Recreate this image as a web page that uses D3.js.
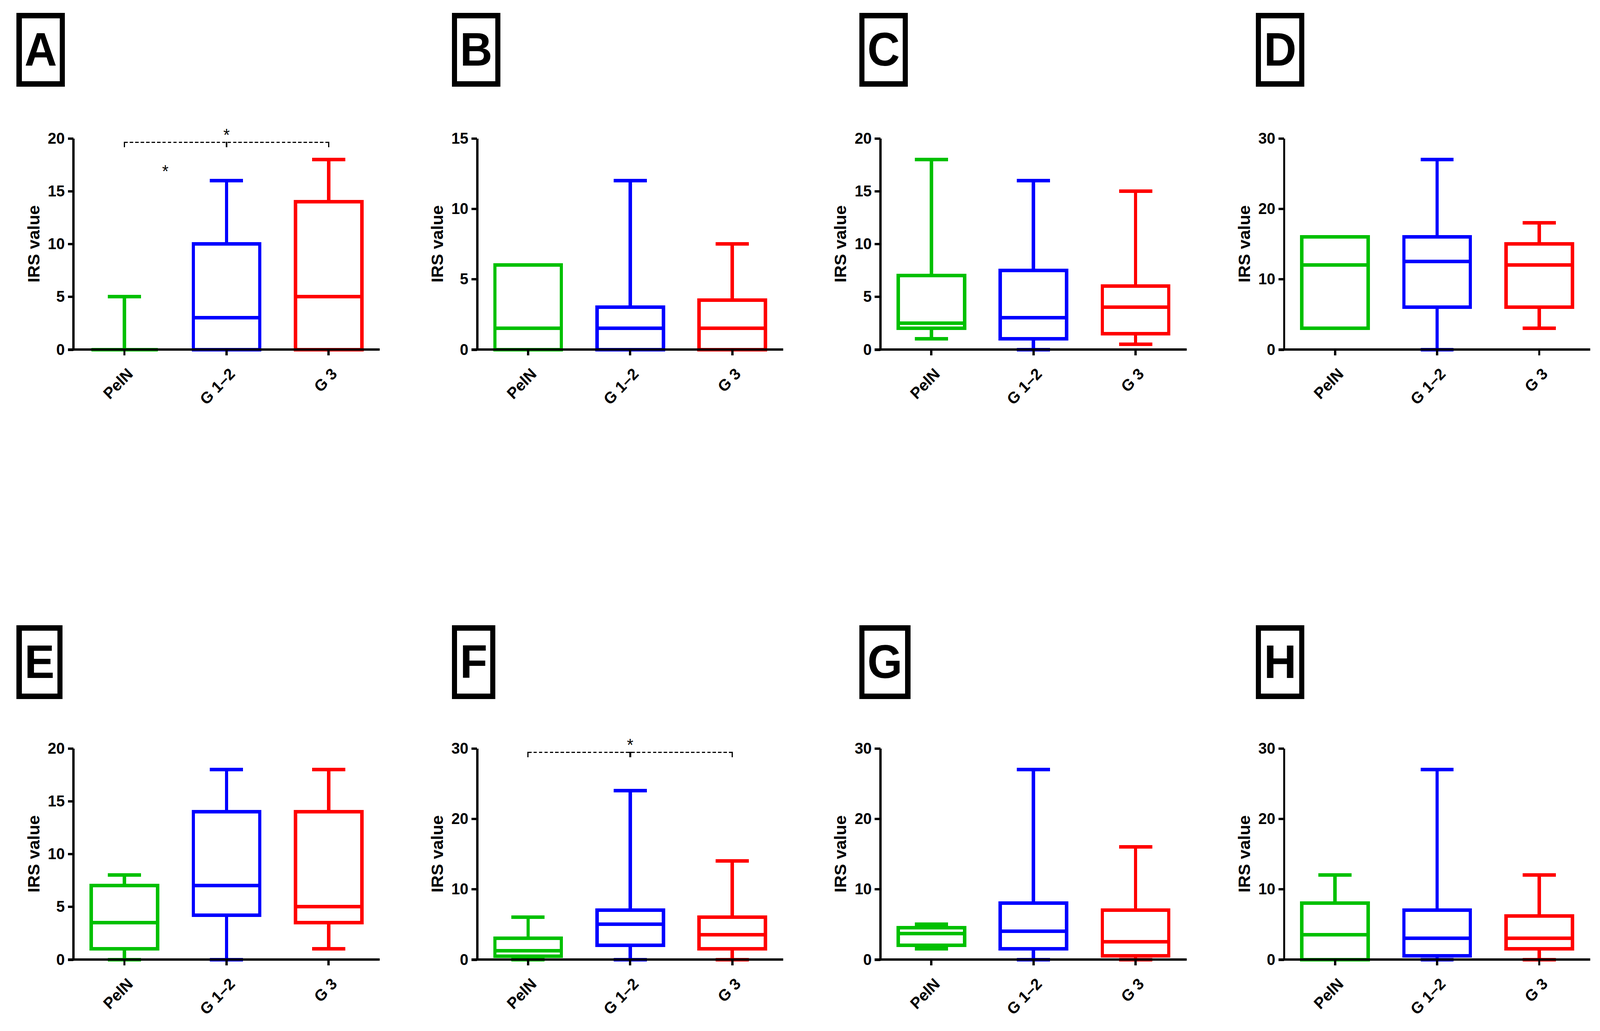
<!DOCTYPE html>
<html>
<head>
  <meta charset="utf-8">
  <script src="https://d3js.org/d3.v7.min.js"></script>
  <title>IRS value box plots</title>
  <style>
    html, body {
      margin: 0;
      padding: 0;
      overflow: hidden;
      background: #fff;
    }
    svg {
      display: block;
    }
    text {
      font-family: 'Liberation Sans', Arial, sans-serif;
      fill: #000;
    }
    .crisp {
      shape-rendering: crispEdges;
    }
  </style>
</head>
<body>
  <div id="chart"></div>
  <script>
    // ---- data ----
    var panels = ["A", "B", "C", "D", "E", "F", "G", "H"];
    var groups = ["PelN", "G 1\u20132", "G 3"];
    var groupColours = ["#00c000", "#0000ff", "#ff0000"];

    var yMax = [20, 15, 20, 30, 20, 30, 30, 30];
    var yStep = [5, 5, 5, 10, 5, 10, 10, 10];

    // one row per panel, one column per group (PelN, G 1-2, G 3)
    var whiskerMin = [
      [0, 0, 0],
      [0, 0, 0],
      [1, 0, 0.5],
      [3, 0, 3],
      [0, 0, 1],
      [0, 0, 0],
      [1.5, 0, 0],
      [0, 0, 0]
    ];
    var quart1 = [
      [0, 0, 0],
      [0, 0, 0],
      [2, 1, 1.5],
      [3, 6, 6],
      [1, 4.2, 3.5],
      [0.45, 2, 1.5],
      [2, 1.5, 0.5],
      [0, 0.5, 1.5]
    ];
    var medians = [
      [0, 3, 5],
      [1.5, 1.5, 1.5],
      [2.5, 3, 4],
      [12, 12.5, 12],
      [3.5, 7, 5],
      [1.25, 5, 3.5],
      [3.7, 4, 2.5],
      [3.5, 3, 3]
    ];
    var quart3 = [
      [0, 10, 14],
      [6, 3, 3.5],
      [7, 7.5, 6],
      [16, 16, 15],
      [7, 14, 14],
      [3, 7, 6],
      [4.5, 8, 7],
      [8, 7, 6.2]
    ];
    var whiskerMax = [
      [5, 16, 18],
      [6, 12, 7.5],
      [18, 16, 15],
      [16, 27, 18],
      [8, 18, 18],
      [6, 24, 14],
      [5, 27, 16],
      [12, 27, 12]
    ];

    // significance brackets (PelN vs G 3) and the lone star in A
    var bracketPanels = ["A", "F"];
    var bracketLevels = [19.6, 29.4];
    var loneStarPanel = "A";
    var loneStarLevel = 16.3;

    // ---- layout ----
    var W = 4273, H = 2640;
    var plotW = 818;
    var plotH = 541;
    var colX = [196, 1274, 2351, 3429];
    var rowY = [354, 1916];
    var labelLeft = [44, 1207, 2295, 3354];
    var labelTop = [33, 1601];

    // scale the whole figure to whatever viewport the page gets
    var svg = d3.select("#chart").append("svg")
      .attr("viewBox", "0 0 " + W + " " + H)
      .attr("preserveAspectRatio", "none")
      .style("width", "100vw")
      .style("height", "100vh");

    svg.append("rect")
      .attr("width", W)
      .attr("height", H)
      .attr("fill", "#fff");

    panels.forEach(function (name, i) {
      var col = i % 4;
      var row = Math.floor(i / 4);

      drawLabel(name, labelLeft[col], labelTop[row]);

      var g = svg.append("g")
        .attr("transform", "translate(" + colX[col] + "," + rowY[row] + ")");

      var x = d3.scaleBand().domain(groups).range([0, plotW]);
      var y = d3.scaleLinear().domain([0, yMax[i]]).range([plotH, 0]);

      var boxW = x.bandwidth() * 0.65;
      var capW = boxW / 2;

      var stats = groups.map(function (grp, j) {
        return {
          name: grp,
          colour: groupColours[j],
          cx: x(grp) + x.bandwidth() / 2,
          lo: whiskerMin[i][j],
          q1: quart1[i][j],
          med: medians[i][j],
          q3: quart3[i][j],
          hi: whiskerMax[i][j]
        };
      });

      var box = g.append("g")
        .attr("class", "crisp")
        .attr("fill", "none")
        .attr("stroke-width", 9)
        .selectAll("g")
        .data(stats)
        .enter()
        .append("g")
        .attr("stroke", function (d) { return d.colour; });

      // whiskers
      box.append("line")
        .attr("x1", function (d) { return d.cx; })
        .attr("x2", function (d) { return d.cx; })
        .attr("y1", function (d) { return y(d.q3); })
        .attr("y2", function (d) { return y(d.hi); });
      box.append("line")
        .attr("x1", function (d) { return d.cx; })
        .attr("x2", function (d) { return d.cx; })
        .attr("y1", function (d) { return y(d.q1); })
        .attr("y2", function (d) { return y(d.lo); });

      // caps
      box.append("line")
        .attr("x1", function (d) { return d.cx - capW / 2; })
        .attr("x2", function (d) { return d.cx + capW / 2; })
        .attr("y1", function (d) { return y(d.hi); })
        .attr("y2", function (d) { return y(d.hi); });
      box.append("line")
        .attr("x1", function (d) { return d.cx - capW / 2; })
        .attr("x2", function (d) { return d.cx + capW / 2; })
        .attr("y1", function (d) { return y(d.lo); })
        .attr("y2", function (d) { return y(d.lo); });

      box.append("rect")
        .attr("x", function (d) { return d.cx - boxW / 2; })
        .attr("y", function (d) { return y(d.q3); })
        .attr("width", boxW)
        .attr("height", function (d) { return y(d.q1) - y(d.q3); });

      box.append("line")
        .attr("x1", function (d) { return d.cx - boxW / 2; })
        .attr("x2", function (d) { return d.cx + boxW / 2; })
        .attr("y1", function (d) { return y(d.med); })
        .attr("y2", function (d) { return y(d.med); });

      // axes
      var yAxis = d3.axisLeft(y)
        .tickValues(d3.range(0, yMax[i] + 0.001, yStep[i]))
        .tickSize(15)
        .tickSizeOuter(0)
        .tickPadding(8);

      var gy = g.append("g").call(yAxis);
      styleAxis(gy);

      var xAxis = d3.axisBottom(x)
        .tickSize(15)
        .tickSizeOuter(0);

      var gx = g.append("g")
        .attr("transform", "translate(0," + plotH + ")")
        .call(xAxis);
      styleAxis(gx);
      gx.select(".domain").attr("d", "M-15,0H" + plotW);
      gx.selectAll(".tick text")
        .attr("x", 0)
        .attr("y", 0)
        .attr("dy", 0)
        .attr("text-anchor", "end")
        .attr("transform", "translate(25,65) rotate(-45)");

      g.append("text")
        .attr("transform", "translate(-91," + (plotH / 2) + ") rotate(-90)")
        .attr("text-anchor", "middle")
        .attr("font-size", 44)
        .attr("font-weight", "bold")
        .text("IRS value");

      var b = bracketPanels.indexOf(name);
      if (b >= 0) {
        drawBracket(g, stats, y(bracketLevels[b]));
      }

      if (name == loneStarPanel) {
        var sx = stats[0].cx + 0.4 * (stats[1].cx - stats[0].cx);
        g.append("text")
          .attr("x", sx)
          .attr("y", y(loneStarLevel))
          .attr("text-anchor", "middle")
          .attr("font-size", 44)
          .text("*");
      }
    });

    function styleAxis(sel) {
      sel.attr("font-size", 41)
        .attr("font-family", null)
        .attr("font-weight", "bold");
      sel.selectAll(".domain, .tick line")
        .attr("stroke", "#000")
        .attr("stroke-width", 6)
        .attr("class", function () {
          return (d3.select(this).attr("class") || "") + " crisp";
        });
      sel.selectAll(".tick text").attr("fill", "#000");
    }

    function drawBracket(g, stats, ly) {
      var x0 = stats[0].cx, x1 = stats[1].cx, x2 = stats[2].cx;
      var br = g.append("g").attr("stroke", "#000").attr("class", "crisp");

      br.append("line")
        .attr("x1", x0).attr("x2", x2)
        .attr("y1", ly).attr("y2", ly)
        .attr("stroke-width", 3)
        .attr("stroke-dasharray", "9,5.5");

      [x0, x2].forEach(function (px) {
        br.append("line")
          .attr("x1", px).attr("x2", px)
          .attr("y1", ly - 1.5).attr("y2", ly + 12)
          .attr("stroke-width", 3);
      });

      br.append("line")
        .attr("x1", x1).attr("x2", x1)
        .attr("y1", ly - 1.5).attr("y2", ly + 12)
        .attr("stroke-width", 5);

      g.append("text")
        .attr("x", x1)
        .attr("y", ly - 4)
        .attr("text-anchor", "middle")
        .attr("font-size", 44)
        .text("*");
    }

    function drawLabel(letter, left, top) {
      var lg = svg.append("g");
      var t = lg.append("text")
        .attr("font-size", 120)
        .attr("font-weight", "bold")
        .attr("text-anchor", "middle")
        .text(letter);
      var outerW = t.node().getComputedTextLength() + 43;

      t.attr("x", left + outerW / 2)
        .attr("y", top + 135);

      lg.append("rect")
        .attr("class", "crisp")
        .attr("x", left + 7)
        .attr("y", top + 7)
        .attr("width", outerW - 14)
        .attr("height", 175)
        .attr("fill", "none")
        .attr("stroke", "#000")
        .attr("stroke-width", 14);
    }
  </script>
</body>
</html>
